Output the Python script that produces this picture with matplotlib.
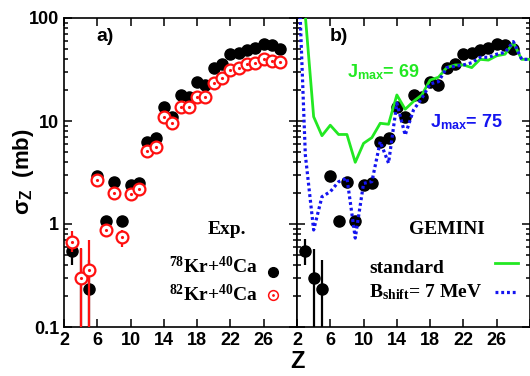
import numpy as np
import matplotlib
matplotlib.use("Agg")
import matplotlib.pyplot as plt

plt.rcParams['font.family'] = ['Liberation Sans', 'DejaVu Sans']
plt.rcParams['mathtext.fontset'] = 'custom'
plt.rcParams['mathtext.rm'] = 'Liberation Serif:bold'
plt.rcParams['mathtext.it'] = 'Liberation Serif:bold'
plt.rcParams['mathtext.bf'] = 'Liberation Serif:bold'
plt.rcParams['mathtext.sf'] = 'Liberation Sans:bold'

# experimental data, Z = 3..28
z_exp = list(range(3, 29))
sig_78 = [0.55, 0.30, 0.235, 2.94, 1.08, 2.56, 1.08, 2.40, 2.48, 6.2, 6.8, 13.8, 11.0,
          17.9, 17.0, 23.8, 22.4, 33.0, 35.7, 44.4, 46.0, 48.9, 51.5, 56.3, 54.7, 50.4]
err_78_lo = [0.15, 0.29, 0.225, 0, 0.12, 0, 0.12] + [0] * 19
err_78_hi = [0.17, 0.27, 0.215, 0, 0.12, 0, 0.12] + [0] * 19
sig_82 = [0.67, 0.30, 0.357, 2.67, 0.875, 1.99, 0.75, 1.94, 2.19, 5.15, 5.63, 11.0, 9.5,
          13.8, 13.8, 17.2, 17.2, 23.5, 25.9, 31.3, 32.5, 35.5, 36.8, 39.7, 38.5, 37.1]
err_82_lo = [0.14, 0.29, 0.347, 0, 0.135, 0, 0.15] + [0] * 19
err_82_hi = [0.18, 0.28, 0.35, 0, 0.125, 0, 0.12] + [0] * 19

# GEMINI calculations, Z = 2..30
z_gem = list(range(2, 31))
gem_std = [300, 105, 11.0, 7.2, 9.1, 7.4, 7.4, 3.97, 6.07, 6.9, 9.5, 9.3, 17.9, 13.0, 15.5,
           17.9, 25.0, 26.6, 33.0, 35.0, 35.0, 33.0, 39.7, 39.0, 43.0, 44.5, 57.5, 39.7, 39.7]
gem_bshift = [700, 4.7, 0.875, 1.84, 2.06, 2.57, 2.8, 0.73, 2.48, 2.58, 6.3, 3.9, 14.9, 7.3,
              12.8, 16.6, 22.9, 24.1, 33.0, 34.0, 35.0, 36.8, 41.5, 41.5, 44.5, 46.4, 59.0,
              39.7, 39.7]

xticks = list(range(2, 31, 4))
xlabels = [str(t) for t in xticks[:-1]] + ['']

red = '#ff1010'
green = '#22e822'
blue = '#1414f0'
dots = (0, (0.9, 0.9))

fig = plt.figure(figsize=(5.3, 3.76), dpi=100)
ax1 = fig.add_axes([64 / 530, 1 - 327 / 376, 233 / 530, 309 / 376])
ax2 = fig.add_axes([297 / 530, 1 - 327 / 376, 233 / 530, 309 / 376])

for ax in (ax1, ax2):
    ax.set_yscale('log')
    ax.set_xlim(2, 30)
    ax.set_ylim(0.1, 100)
    ax.set_xticks(xticks)
    ax.set_xticklabels(xlabels, fontsize=13, fontweight='bold')
    ax.tick_params(which='both', direction='in', top=True, right=True, width=1.1)
    ax.tick_params(which='major', length=6)
    ax.tick_params(which='minor', length=3)
    for s in ax.spines.values():
        s.set_linewidth(1.2)
    # black points
    ax.errorbar(z_exp, sig_78, yerr=[err_78_lo, err_78_hi], fmt='o', color='black',
                ms=8, elinewidth=1.6, capsize=0, zorder=3)

ax1.set_yticks([0.1, 1, 10, 100])
ax1.set_yticklabels(['0.1', '1', '10', '100'], fontsize=13, fontweight='bold')
ax2.set_yticklabels([])

# red points
ax1.errorbar(z_exp, sig_82, yerr=[err_82_lo, err_82_hi], fmt='o', color=red, mfc='white',
             mec=red, ms=8.5, mew=1.6, elinewidth=1.6, capsize=0, zorder=4)
ax1.plot(z_exp, sig_82, '.', color=red, ms=2.5, zorder=5)

fig.text(24 / 530, 1 - 172 / 376, r'σ$_{\mathsf{Z}}$  (mb)', fontsize=16, fontweight='bold',
         rotation=90, ha='center', va='center')
fig.text(297 / 530, 1 - 362 / 376, 'Z', fontsize=17, fontweight='bold', ha='center', va='center')

ax1.text(0.14, 0.968, 'a)', transform=ax1.transAxes, fontsize=14, fontweight='bold', va='top')
ax2.text(0.142, 0.968, 'b)', transform=ax2.transAxes, fontsize=14, fontweight='bold', va='top')

# legend of panel a
serif = 'Liberation Serif'
ax1.text(0.70, 0.315, 'Exp.', transform=ax1.transAxes, family=serif, fontsize=14,
         fontweight='bold', ha='center', va='center')
ax1.text(0.833, 0.175, r'$^{\mathrm{78}}$Kr+$^{\mathrm{40}}$Ca', transform=ax1.transAxes,
         family=serif, fontsize=14, fontweight='bold', ha='right', va='baseline')
ax1.text(0.833, 0.083, r'$^{\mathrm{82}}$Kr+$^{\mathrm{40}}$Ca', transform=ax1.transAxes,
         family=serif, fontsize=14, fontweight='bold', ha='right', va='baseline')
ax1.plot([0.897], [0.178], 'o', color='black', ms=7, transform=ax1.transAxes)
ax1.plot([0.897], [0.104], 'o', mfc='white', mec=red, ms=7, mew=1.1, transform=ax1.transAxes)
ax1.plot([0.897], [0.104], '.', color=red, ms=2, transform=ax1.transAxes)

# GEMINI lines
ax2.plot(z_gem, gem_std, '-', color=green, lw=2.0, zorder=6)
ax2.plot(z_gem, gem_bshift, linestyle=dots, color=blue, lw=2.3, zorder=7)

ax2.text(0.215, 0.825, r'J$_{\mathsf{max}}$= 69', transform=ax2.transAxes, color=green,
         fontsize=13, fontweight='bold', va='center')
ax2.text(0.571, 0.663, r'J$_{\mathsf{max}}$= 75', transform=ax2.transAxes, color=blue,
         fontsize=13, fontweight='bold', va='center')

# legend of panel b
ax2.text(0.644, 0.315, 'GEMINI', transform=ax2.transAxes, family=serif, fontsize=14,
         fontweight='bold', ha='center', va='center')
ax2.text(0.31, 0.175, 'standard', transform=ax2.transAxes, family=serif, fontsize=14,
         fontweight='bold', ha='left', va='baseline')
ax2.text(0.31, 0.095, r'B$_{\mathrm{shift}}$= 7 MeV', transform=ax2.transAxes, family=serif,
         fontsize=14, fontweight='bold', ha='left', va='baseline')
ax2.plot([0.85, 0.949], [0.207, 0.207], '-', color=green, lw=2.0, transform=ax2.transAxes)
ax2.plot([0.85, 0.949], [0.113, 0.113], linestyle=dots, color=blue, lw=2.3,
         transform=ax2.transAxes)

fig.savefig('out.png', dpi=100)
